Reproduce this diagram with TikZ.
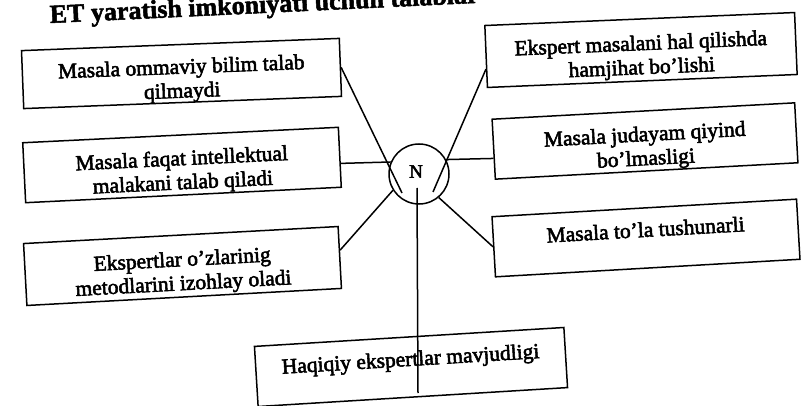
\documentclass[tikz,border=0pt]{standalone}
\usepackage{fontspec}
\setmainfont{Liberation Serif}
\font\inkbox="Liberation Serif:embolden=2.5" at 21.5pt
\font\inkhub="Liberation Serif:embolden=2.5" at 19pt
\font\inktitle="Liberation Serif/B:embolden=2" at 26pt
% taller first line, so the text sits a little low in its box
\newcommand\liftline{\rule{0pt}{29pt}}
\usetikzlibrary{calc}
\begin{document}
\begin{tikzpicture}[x=1pt,y=-1pt,
  box/.style={draw, line width=1.5pt, align=center, inner sep=0pt,
              font=\fontsize{21.5}{24}\selectfont\inkbox},
  link/.style={line width=1.5pt}]
\useasboundingbox (0,0) rectangle (803,406);
\clip (0,0) rectangle (803,406);
\fill[white] (0,0) rectangle (803,406);

% heading, running off the top edge
\node[anchor=base west, rotate=2.7, inner sep=0pt, font=\inktitle] (title) at (50,23)
      {ET yaratish imkoniyati uchun talablar};

% requirement boxes
\node[box, rotate=2.2, minimum width=318pt, minimum height=58pt] (b1) at (181.5,73.5)
  {\liftline Masala ommaviy bilim talab\\qilmaydi};
\node[box, rotate=2.8, minimum width=316pt, minimum height=60pt] (b2) at (182,165)
  {\liftline Masala faqat intellektual\\malakani talab qiladi};
\node[box, rotate=3.1, minimum width=315pt, minimum height=62pt] (b3) at (182.5,266)
  {\liftline Ekspertlar o’zlarinig\\metodlarini izohlay oladi};
\node[box, rotate=2.4, minimum width=310pt, minimum height=62pt] (b4) at (641,50)
  {\liftline Ekspert masalani hal qilishda\\hamjihat bo’lishi};
\node[box, rotate=3.1, minimum width=303pt, minimum height=60pt] (b5) at (645,141)
  {\liftline Masala judayam qiyind\\bo’lmasligi};
\node[box, rotate=3.3, minimum width=305pt, minimum height=60pt] (b6) at (646,238)
  {\liftline Masala to’la tushunarli\\\strut};
\node[box, rotate=3.5, minimum width=310pt, minimum height=60pt] (b7) at (411,367)
  {\liftline Haqiqiy ekspertlar mavjudligi\\\strut};

% central hub
\node[draw, circle, line width=1.5pt, minimum size=60pt, inner sep=0pt] (N) at (419,174) {};
\node[inner sep=0pt, font=\inkhub] (Nlabel) at (416,171.5) {N};

% free ends of the spokes inside the hub and box
\coordinate (k1) at (402,193);
\coordinate (k4) at (433,192);
\coordinate (k7top) at (417,188);
\coordinate (k7bot) at (418,393);

% spokes
\draw[link] (b1.east) -- (k1);
\draw[link] ($(b4.west)!0.4!(b4.south west)$) -- (k4);
\draw[link] ($(b2.east)!0.2!(b2.south east)$) -- (N.157);
\draw[link] (N.28) -- ($(b5.west)!0.3!(b5.south west)$);
\draw[link] (N.212) -- ($(b3.north east)!0.77!(b3.east)$);
\draw[link] (N.310) -- (b6.west);
\draw[link] (k7top) -- (k7bot);
\end{tikzpicture}
\end{document}
